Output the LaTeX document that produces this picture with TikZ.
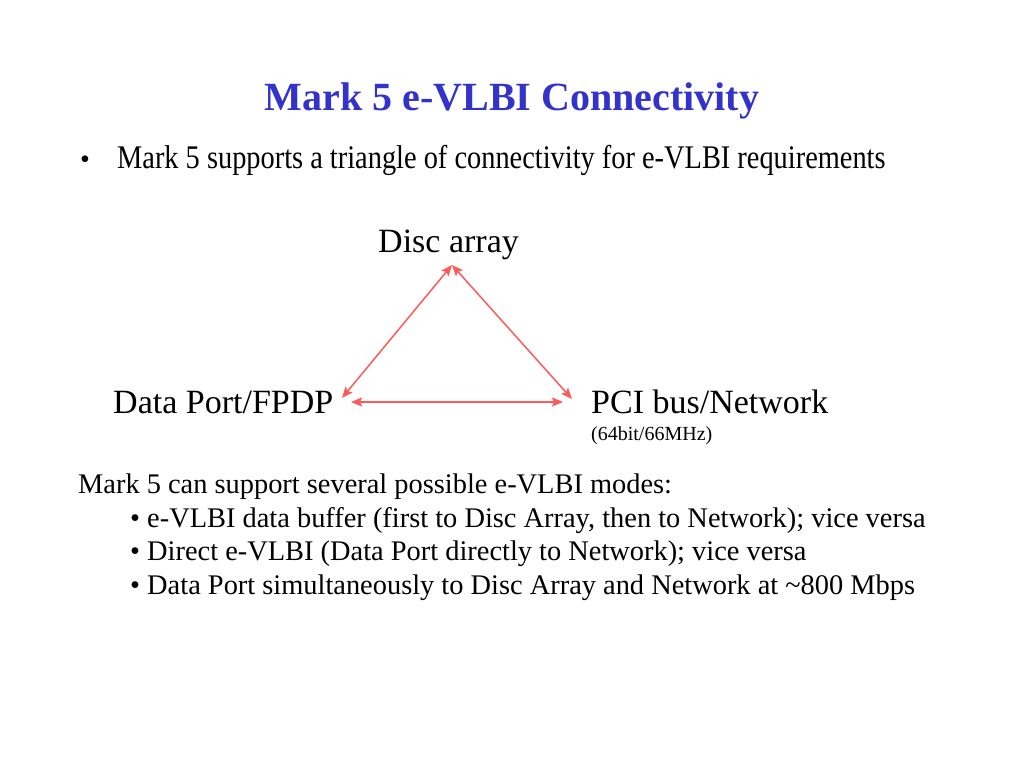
\documentclass[tikz,border=0pt]{standalone}
\usepackage{fontspec}
\setmainfont{Liberation Serif}
\usetikzlibrary{arrows.meta}
\definecolor{titleblue}{HTML}{3333CC}
\definecolor{arrowred}{HTML}{FF5A5A}
\tikzset{
  txt/.style={inner sep=0pt, anchor=base west, text=black},
  body/.style={txt, font=\fontsize{28.4}{32}\selectfont},
  big/.style={txt, font=\fontsize{34}{38}\selectfont},
  link/.style={draw=arrowred, line width=1.5pt, {Stealth[length=11pt,width=9pt,inset=2pt]}-{Stealth[length=11pt,width=9pt,inset=2pt]}},
}
\begin{document}
\begin{tikzpicture}[x=1pt,y=-1pt]
\useasboundingbox (0,0) rectangle (1024,768);
\fill[white] (0,0) rectangle (1024,768);
\node[inner sep=0pt, anchor=base, text=titleblue, font=\fontsize{40}{46}\selectfont\bfseries] (title) at (512,110) {Mark 5 e-VLBI Connectivity};
\node[txt, font=\fontsize{28}{32}\selectfont] (bul) at (80,168) {•};
\node[txt, font=\fontsize{33}{38}\selectfont, xscale=0.86] (intro) at (117,168) {Mark 5 supports a triangle of connectivity for e-VLBI requirements};
\node[big] (disc) at (378,252) {Disc array};
\node[big] (dp) at (113,413) {Data Port/FPDP};
\node[big] (pci) at (591,413) {PCI bus/Network};
\node[txt, font=\fontsize{20}{24}\selectfont] (pcisub) at (591,440) {(64bit/66MHz)};
\node[body] (modes) at (78,493) {Mark 5 can support several possible e-VLBI modes:};
\node[body] (m1) at (130,527) {• e-VLBI data buffer (first to Disc Array, then to Network); vice versa};
\node[body] (m2) at (130,560) {• Direct e-VLBI (Data Port directly to Network); vice versa};
\node[body] (m3) at (130,594) {• Data Port simultaneously to Disc Array and Network at \textasciitilde800 Mbps};
\coordinate (top) at (452,265);
\coordinate (left) at (342,398);
\coordinate (right) at (572,399);
\coordinate (bl) at (351,402);
\coordinate (br) at (563,402);
\draw[link] (left) -- (top);
\draw[link] (top) -- (right);
\draw[link] (bl) -- (br);
\end{tikzpicture}
\end{document}
